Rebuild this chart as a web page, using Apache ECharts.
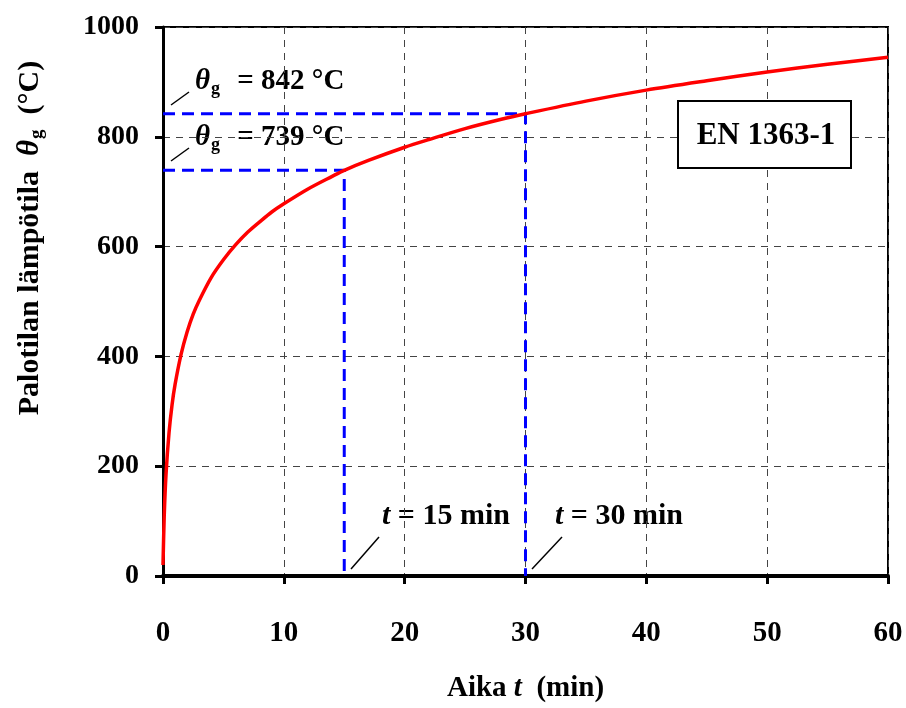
<!DOCTYPE html>
<html>
<head>
<meta charset="utf-8">
<script src="https://cdn.jsdelivr.net/npm/echarts@6/dist/echarts.min.js"></script>
<style>
  html, body { margin: 0; padding: 0; background: #fff; }
  #chart { width: 906px; height: 708px; }
</style>
</head>
<body>
<div id="chart"></div>
<script>
// aika (min) ja palotilan lämpötila (°C), luettu kuvasta
var times = [0, 0.1, 0.25, 0.5, 0.75, 1, 1.5, 2, 2.5, 3, 4, 5, 6, 7, 8, 9, 10, 12, 14, 15, 17, 20, 22, 25, 28, 30, 35, 40, 45, 50, 55, 60];
var temps = [20, 108, 185, 261, 312, 349, 404, 445, 477, 502, 544, 576, 603, 626, 645, 663, 678, 705, 728, 739, 757, 781, 795, 815, 832, 842, 865, 885, 902, 918, 932, 945];

// apuviivat 15 min ja 30 min kohdalla
var guide15 = [[0, 739], [15, 739], [15, 0]];
var guide30 = [[0, 842], [30, 842], [30, 0]];

var xTicks = [0, 60, 10];
var yTicks = [0, 1000, 200];

var serif = '"Liberation Serif", "DejaVu Serif", serif';

var curve = [];
for (var i = 0; i < times.length; i++) {
    curve.push([times[i], temps[i]]);
}

var noComma = function (v) { return String(v); };

var annRich = {
    th: { fontFamily: serif, fontWeight: 'bold', fontStyle: 'italic', fontSize: 29, color: '#000' },
    sub: { fontFamily: serif, fontWeight: 'bold', fontSize: 18, color: '#000', padding: [16, 0, 0, 1] },
    txt: { fontFamily: serif, fontWeight: 'bold', fontSize: 29, color: '#000', padding: [0, 0, 0, 10] },
    it: { fontFamily: serif, fontWeight: 'bold', fontStyle: 'italic', fontSize: 30, color: '#000' },
    big: { fontFamily: serif, fontWeight: 'bold', fontSize: 30, color: '#000' }
};

var myChart = echarts.init(document.getElementById('chart'), null, { renderer: 'canvas' });

myChart.setOption({
    backgroundColor: '#fff',
    animation: false,
    grid: {
        left: 163, right: 18, top: 27, bottom: 128,
        show: true,
        borderColor: '#000',
        borderWidth: 2
    },
    xAxis: {
        type: 'value',
        min: xTicks[0], max: xTicks[1], interval: xTicks[2],
        name: '{a|Aika }{b|t}{a|  (min)}',
        nameLocation: 'middle',
        nameGap: 98,
        nameTextStyle: {
            rich: {
                a: { fontFamily: serif, fontWeight: 'bold', fontSize: 29, color: '#000' },
                b: { fontFamily: serif, fontWeight: 'bold', fontStyle: 'italic', fontSize: 29, color: '#000' }
            }
        },
        axisLine: { show: true, onZero: false, lineStyle: { color: '#000', width: 4 } },
        axisTick: { show: true, inside: false, length: 8, lineStyle: { color: '#000', width: 3 } },
        axisLabel: {
            margin: 43,
            formatter: noComma,
            fontFamily: serif, fontWeight: 'bold', fontSize: 29, color: '#000'
        },
        splitLine: { show: true, lineStyle: { color: '#444', width: 1, type: [7, 6] } }
    },
    yAxis: {
        type: 'value',
        min: yTicks[0], max: yTicks[1], interval: yTicks[2],
        axisLine: { show: true, onZero: false, lineStyle: { color: '#000', width: 3 } },
        axisTick: { show: true, inside: false, length: 8, lineStyle: { color: '#000', width: 3 } },
        axisLabel: {
            margin: 24,
            formatter: noComma,
            fontFamily: serif, fontWeight: 'bold', fontSize: 28, color: '#000'
        },
        splitLine: { show: true, lineStyle: { color: '#444', width: 1, type: [7, 6] } }
    },
    series: [
        {
            name: 'guide30',
            type: 'line',
            data: guide30,
            symbol: 'none',
            z: 3,
            lineStyle: { color: '#0000ff', width: 3, type: [12, 7] }
        },
        {
            name: 'guide15',
            type: 'line',
            data: guide15,
            symbol: 'none',
            z: 3,
            lineStyle: { color: '#0000ff', width: 3, type: [12, 7] }
        },
        {
            name: 'EN 1363-1',
            type: 'line',
            data: curve,
            symbol: 'none',
            smooth: 0.3,
            z: 4,
            lineStyle: { color: '#ff0000', width: 3.5 }
        }
    ],
    graphic: [
        // pystyakselin nimi (ei keskellä akselia)
        {
            type: 'text', x: 30, y: 238, rotation: Math.PI / 2,
            style: {
                text: '{a|Palotilan lämpötila  }{th|θ}{sub|g}{a|  (°C)}',
                align: 'center', verticalAlign: 'middle',
                rich: {
                    a: { fontFamily: serif, fontWeight: 'bold', fontSize: 30, color: '#000' },
                    th: { fontFamily: serif, fontWeight: 'bold', fontStyle: 'italic', fontSize: 31, color: '#000' },
                    sub: { fontFamily: serif, fontWeight: 'bold', fontSize: 19, color: '#000', padding: [15, 0, 0, 1] }
                }
            }
        },
        // θg-merkinnät ja osoitinviivat
        { type: 'line', shape: { x1: 171, y1: 105, x2: 189, y2: 92 }, style: { stroke: '#000', lineWidth: 1.5 } },
        { type: 'line', shape: { x1: 171, y1: 161, x2: 189, y2: 148 }, style: { stroke: '#000', lineWidth: 1.5 } },
        {
            type: 'text', left: 195, top: 67,
            style: { text: '{th|θ}{sub|g}{txt| = 842 °C}', rich: annRich }
        },
        {
            type: 'text', left: 195, top: 123,
            style: { text: '{th|θ}{sub|g}{txt| = 739 °C}', rich: annRich }
        },
        // aikamerkinnät
        { type: 'line', shape: { x1: 351, y1: 569, x2: 379, y2: 537 }, style: { stroke: '#000', lineWidth: 1.5 } },
        { type: 'line', shape: { x1: 532, y1: 569, x2: 562, y2: 537 }, style: { stroke: '#000', lineWidth: 1.5 } },
        {
            type: 'text', left: 382, top: 501,
            style: { text: '{it|t}{big| = 15 min}', rich: annRich }
        },
        {
            type: 'text', left: 555, top: 501,
            style: { text: '{it|t}{big| = 30 min}', rich: annRich }
        },
        // standardin nimi laatikossa
        {
            type: 'rect', shape: { x: 678, y: 101, width: 173, height: 67 },
            style: { fill: '#fff', stroke: '#000', lineWidth: 2 }, z: 10
        },
        {
            type: 'text', x: 766, y: 136, z: 11,
            style: {
                text: 'EN 1363-1', align: 'center', verticalAlign: 'middle',
                fontFamily: serif, fontWeight: 'bold', fontSize: 31, fill: '#000'
            }
        }
    ]
});
</script>
</body>
</html>
